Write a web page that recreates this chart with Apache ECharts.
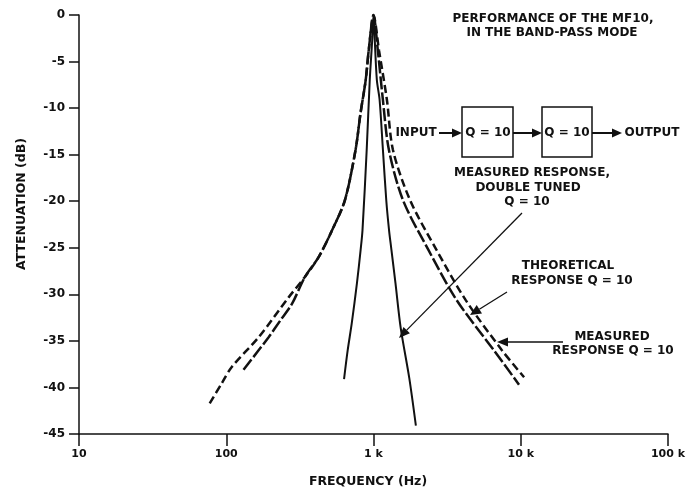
<!DOCTYPE html>
<html>
<head>
<meta charset="utf-8">
<script src="https://cdn.jsdelivr.net/npm/echarts@6/dist/echarts.min.js"></script>
<style>
html,body{margin:0;padding:0;background:#fff;}
#chart{width:695px;height:490px;}
</style>
</head>
<body>
<div id="chart"></div>
<script>
// ---- data ----
const xTickLabels = ['10', '100', '1 k', '10 k', '100 k'];
const yTickLabels = ['0', '-5', '-10', '-15', '-20', '-25', '-30', '-35', '-40', '-45'];

// Measured response, double tuned, Q = 10 (solid)
const doubleFreq = [631, 668, 712, 772, 818, 842, 899, 943, 980, 1000, 1020, 1054, 1100, 1159, 1221, 1275, 1323, 1410, 1530, 1750, 1940];
const doubleDb   = [-39.1, -36.0, -33.1, -28.8, -25.2, -23.1, -14.5, -7.0, -2.7, 0, -2.7, -7.0, -9.1, -14.5, -19.9, -23.1, -25.2, -28.8, -33.6, -39.0, -44.1];

// Theoretical response Q = 10 (long dashes)
const theoFreq = [131, 194, 233, 280, 343, 424, 524, 639, 755, 817, 885, 928, 1000, 1070, 1158, 1273, 1587, 2355, 3662, 6563, 9730];
const theoDb   = [-38.1, -34.6, -32.8, -31.0, -28.1, -26.0, -23.1, -19.9, -14.5, -10.5, -7.0, -3.8, 0, -3.8, -9.1, -14.5, -19.9, -25.2, -30.6, -36.0, -39.7];

// Measured response Q = 10 (short dashes)
const measFreq = [77.2, 92.9, 109, 166, 266, 343, 424, 524, 639, 755, 817, 885, 928, 1000, 1090, 1233, 1356, 1773, 2671, 4220, 7447, 10535];
const measDb   = [-41.7, -39.6, -37.8, -34.6, -30.3, -28.1, -26.0, -23.1, -19.9, -14.5, -10.5, -7.0, -3.8, 0, -3.8, -9.1, -14.5, -19.9, -25.2, -30.6, -36.0, -38.9];

const zip = (a, b) => a.map((v, i) => [v, b[i]]);

const FONT = 'DejaVu Sans';
const INK = '#111';

function txt(text, x, y, opts) {
  return Object.assign({
    type: 'text', x: x, y: y, z: 10,
    style: Object.assign({
      text: text, fill: INK, font: 'bold 12px "' + FONT + '"',
      textAlign: 'center', textVerticalAlign: 'middle'
    }, (opts && opts.style) || {})
  }, (opts && opts.props) || {});
}
function seg(x1, y1, x2, y2, w) {
  return { type: 'line', z: 10, shape: { x1: x1, y1: y1, x2: x2, y2: y2 }, style: { stroke: INK, lineWidth: w || 1.3 } };
}
function arrow(x1, y1, x2, y2, len, half, w) {
  const dx = x2 - x1, dy = y2 - y1, L = Math.hypot(dx, dy);
  const ux = dx / L, uy = dy / L, px = -uy, py = ux;
  const bx = x2 - ux * len, by = y2 - uy * len;
  return [
    seg(x1, y1, bx, by, w),
    { type: 'polygon', z: 10, shape: { points: [[x2, y2], [bx + px * half, by + py * half], [bx - px * half, by - py * half]] }, style: { fill: INK } }
  ];
}
function box(x, y, w, h) {
  return { type: 'rect', z: 10, shape: { x: x, y: y, width: w, height: h }, style: { fill: '#fff', stroke: INK, lineWidth: 1.5 } };
}

const graphics = [].concat(
  [
    txt('PERFORMANCE OF THE MF10,', 553, 19),
    txt('IN THE BAND-PASS MODE', 552, 33),
    txt('INPUT', 416, 133),
    box(462, 107, 51, 50),
    txt('Q = 10', 488, 133),
    box(542, 107, 50, 50),
    txt('Q = 10', 567, 133),
    txt('OUTPUT', 652, 133),
    txt('MEASURED RESPONSE,', 532, 173),
    txt('DOUBLE TUNED', 528, 188),
    txt('Q = 10', 527, 202),
    txt('THEORETICAL', 568, 266),
    txt('RESPONSE Q = 10', 572, 281),
    txt('MEASURED', 612, 337),
    txt('RESPONSE Q = 10', 613, 351),
    txt('FREQUENCY (Hz)', 368, 482, { style: { font: 'bold 12.5px "' + FONT + '"' } }),
    txt('ATTENUATION (dB)', 22, 204, { style: { font: 'bold 12.5px "' + FONT + '"' }, props: { rotation: Math.PI / 2 } })
  ],
  arrow(439, 133, 462, 133, 10, 4.5, 2),
  arrow(513, 133, 542, 133, 10, 4.5, 2),
  arrow(592, 133, 622, 133, 10, 4.5, 2),
  arrow(522, 213, 399, 338, 11, 4.5, 1.3),
  arrow(507, 292, 470, 315, 11, 5, 1.3),
  arrow(563, 342, 497, 342, 11, 4.5, 1.3)
);

const chart = echarts.init(document.getElementById('chart'), null, { renderer: 'canvas' });
chart.setOption({
  backgroundColor: '#fff',
  animation: false,
  grid: { left: 79, right: 27, top: 15, bottom: 56 },
  xAxis: {
    type: 'log', logBase: 10, min: 10, max: 100000,
    axisLine: { show: true, onZero: false, lineStyle: { color: INK, width: 1.5 } },
    axisTick: { show: true, length: 12, lineStyle: { color: INK, width: 1.5 } },
    minorTick: { show: false },
    splitLine: { show: false },
    axisLabel: {
      margin: 15, color: INK, fontFamily: FONT, fontWeight: 'bold', fontSize: 11,
      formatter: v => xTickLabels[Math.round(Math.log10(v)) - 1]
    }
  },
  yAxis: {
    type: 'value', min: -45, max: 0, interval: 5,
    axisLine: { show: true, onZero: false, lineStyle: { color: INK, width: 1.5 } },
    axisTick: { show: true, length: 10, lineStyle: { color: INK, width: 1.5 } },
    splitLine: { show: false },
    axisLabel: {
      margin: 14, color: INK, fontFamily: FONT, fontWeight: 'bold', fontSize: 12,
      formatter: v => yTickLabels[Math.round(-v / 5)]
    }
  },
  series: [
    {
      name: 'Measured response, double tuned Q = 10', type: 'line', data: zip(doubleFreq, doubleDb),
      showSymbol: false, smooth: 0.3, clip: false,
      lineStyle: { color: INK, width: 2 }
    },
    {
      name: 'Theoretical response Q = 10', type: 'line', data: zip(theoFreq, theoDb),
      showSymbol: false, smooth: 0.3, clip: false,
      lineStyle: { color: INK, width: 2.5, type: [13, 3] }
    },
    {
      name: 'Measured response Q = 10', type: 'line', data: zip(measFreq, measDb),
      showSymbol: false, smooth: 0.3, clip: false,
      lineStyle: { color: INK, width: 2.5, type: [8, 4] }
    }
  ],
  graphic: graphics
});
</script>
</body>
</html>
